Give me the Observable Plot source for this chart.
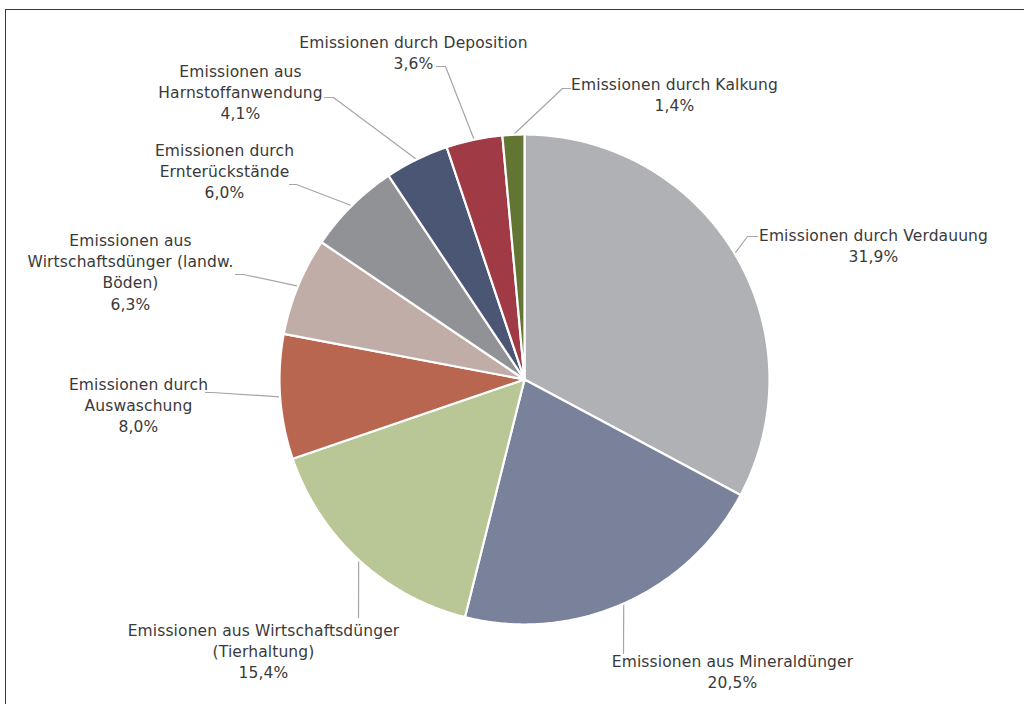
<!DOCTYPE html>
<html>
<head>
<meta charset="utf-8">
<script src="https://cdn.jsdelivr.net/npm/d3@7"></script>
<script src="https://cdn.jsdelivr.net/npm/@observablehq/plot@0.6"></script>
<style>
  html, body { margin: 0; padding: 0; background: #fff; }
  #chart { position: absolute; left: 0; top: 0; }
  #chart text { letter-spacing: 0.12px; }
  #frame { position: absolute; left: 5px; top: 9px; width: 1100px; height: 800px;
           border-top: 1.5px solid #3a3a3a; border-left: 1.5px solid #3a3a3a; pointer-events: none; }
</style>
</head>
<body>
<div id="chart"></div>
<div id="frame"></div>
<script>
// ---- data ----
const names = [
  "Emissionen durch Verdauung",
  "Emissionen aus Mineraldünger",
  "Emissionen aus Wirtschaftsdünger (Tierhaltung)",
  "Emissionen durch Auswaschung",
  "Emissionen aus Wirtschaftsdünger (landw. Böden)",
  "Emissionen durch Ernterückstände",
  "Emissionen aus Harnstoffanwendung",
  "Emissionen durch Deposition",
  "Emissionen durch Kalkung"
];
const shares = [31.9, 20.5, 15.4, 8.0, 6.3, 6.0, 4.1, 3.6, 1.4];
const labelLines = [
  ["Emissionen durch Verdauung", "31,9%"],
  ["Emissionen aus Mineraldünger", "20,5%"],
  ["Emissionen aus Wirtschaftsdünger", "(Tierhaltung)", "15,4%"],
  ["Emissionen durch", "Auswaschung", "8,0%"],
  ["Emissionen aus", "Wirtschaftsdünger (landw.", "Böden)", "6,3%"],
  ["Emissionen durch", "Ernterückstände", "6,0%"],
  ["Emissionen aus", "Harnstoffanwendung", "4,1%"],
  ["Emissionen durch Deposition", "3,6%"],
  ["Emissionen durch Kalkung", "1,4%"]
];
const colors = ["#b0b1b5", "#7a819b", "#b9c797", "#b86650", "#c0ada7", "#909296", "#4b5674", "#a03a44", "#627532"];

// ---- layout (pixels) ----
const W = 1024, H = 704, cx = 524, cy = 379, R = 245;
// label text centre x and first-line baseline y
const labelPos = [
  [873, 239], [732, 665], [263, 634], [138, 388], [130, 244],
  [224, 154], [240, 75], [413, 46], [674, 88]
];
// leader lines: intermediate elbow points after slice edge point
const leaderPts = [
  [[747, 236], [757, 236]],
  [[623, 653]],
  [[358, 617]],
  [[212, 392], [205, 392]],
  [[243, 274], [235, 274]],
  [[296, 184], [289, 184]],
  [[333, 97], [324, 97]],
  [[445, 66], [436, 66]],
  [[562, 88], [570, 88]]
];

// ---- build pie geometry from the data ----
const pie = d3.pie().sort(null).value(d => d)(shares);
const slicePts = [];
const leaders = [];
const labels = [];
pie.forEach((p, i) => {
  const a0 = p.startAngle, a1 = p.endAngle;
  const n = Math.max(2, Math.ceil((a1 - a0) / (Math.PI / 360)));
  slicePts.push({name: names[i], x: cx, y: cy});
  for (let k = 0; k <= n; k++) {
    const a = a0 + (a1 - a0) * k / n;
    slicePts.push({name: names[i], x: cx + R * Math.sin(a), y: cy - R * Math.cos(a)});
  }
  slicePts.push({name: names[i], x: cx, y: cy});
  const am = (a0 + a1) / 2;
  leaders.push({name: names[i], x: cx + R * Math.sin(am), y: cy - R * Math.cos(am)});
  leaderPts[i].forEach(([x, y]) => leaders.push({name: names[i], x, y}));
  const [lx, ly] = labelPos[i];
  labels.push({name: names[i], text: labelLines[i].join("\n"), x: lx, y: ly - 14});
});

const chart = Plot.plot({
  width: W,
  height: H,
  margin: 0,
  x: {domain: [0, W], range: [0, W], axis: null},
  y: {domain: [0, H], range: [0, H], axis: null},
  color: {domain: names, range: colors},
  style: {fontFamily: "DejaVu Sans", background: "white"},
  marks: [
    Plot.line(leaders, {x: "x", y: "y", z: "name", stroke: "#a6a6a6", strokeWidth: 1.2}),
    Plot.line(slicePts, {x: "x", y: "y", z: "name", fill: "name", stroke: "white",
      strokeWidth: 2.2, strokeLinejoin: "round"}),
    Plot.text(labels, {x: "x", y: "y", text: "text", textAnchor: "middle", lineAnchor: "top",
      lineHeight: 1.38, fontSize: 15.5, fill: "#3a3a3a"})
  ]
});
document.getElementById("chart").appendChild(chart);
</script>
</body>
</html>
